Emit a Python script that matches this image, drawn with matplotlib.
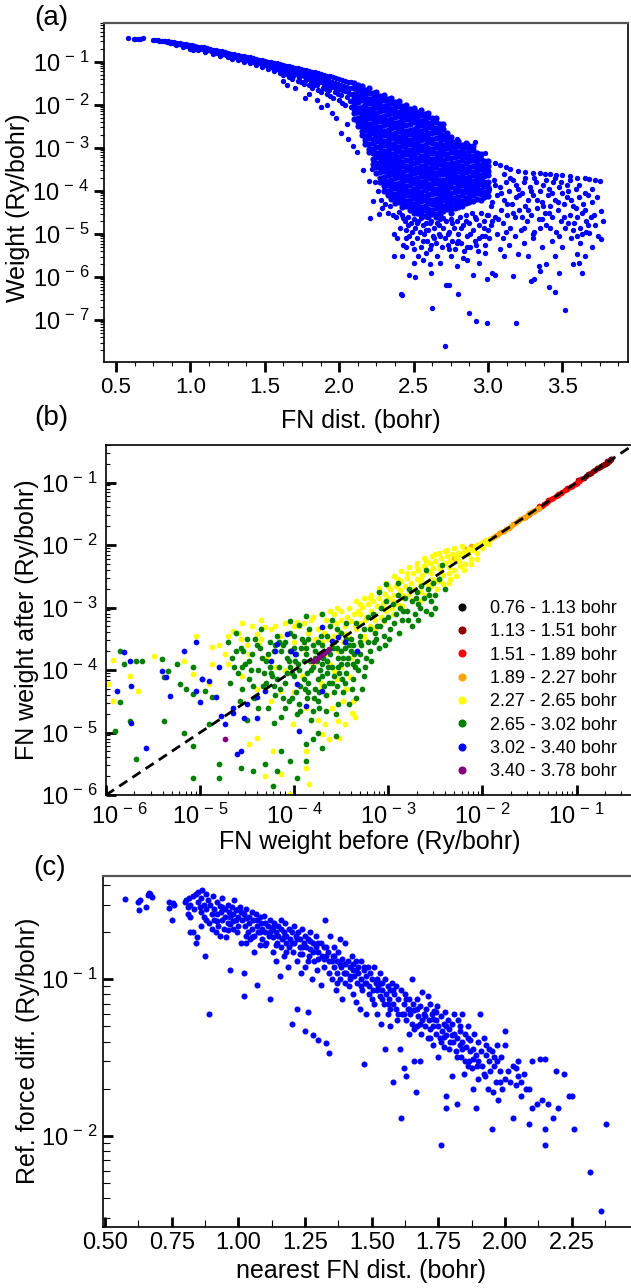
import numpy as np
import matplotlib
matplotlib.use("Agg")
import matplotlib.pyplot as plt
import matplotlib.transforms as mtransforms
from matplotlib.ticker import (LogLocator, MultipleLocator, AutoMinorLocator,
                               NullFormatter, FormatStrFormatter, FuncFormatter)
from matplotlib.lines import Line2D

# ---------------- panel (a): FN distance vs weight (log10 of weight) ----------------
a_band = [
    (0.58,-0.45),(0.62,-0.47),(0.63,-0.48),(0.65,-0.47),(0.66,-0.48),(0.68,-0.46),(0.75,-0.50),(0.76,-0.49),(0.78,-0.50),(0.79,-0.52),
    (0.81,-0.51),(0.82,-0.53),(0.83,-0.52),(0.84,-0.55),(0.85,-0.53),(0.86,-0.56),(0.87,-0.54),(0.88,-0.57),(0.89,-0.55),(0.90,-0.58),
    (0.91,-0.56),(0.92,-0.59),(0.93,-0.57),(0.94,-0.61),(0.95,-0.58),(0.96,-0.62),(0.97,-0.60),(0.98,-0.63),(0.99,-0.61),(1.00,-0.65),
    (1.01,-0.62),(1.02,-0.66),(1.03,-0.63),(1.04,-0.68),(1.05,-0.65),(1.06,-0.69),(1.07,-0.66),(1.08,-0.71),(1.09,-0.67),(1.10,-0.73),
    (1.11,-0.69),(1.12,-0.74),(1.13,-0.70),(1.14,-0.76),(1.15,-0.72),(1.16,-0.78),(1.17,-0.73),(1.18,-0.79),(1.19,-0.75),(1.20,-0.81),
    (1.21,-0.76),(1.22,-0.83),(1.23,-0.78),(1.24,-0.85),(1.25,-0.79),(1.26,-0.86),(1.27,-0.81),(1.28,-0.88),(1.29,-0.82),(1.30,-0.90),
    (1.00,-0.70),(1.05,-0.73),(1.10,-0.77),(1.15,-0.82),(1.20,-0.86),(1.25,-0.90),(1.28,-0.94),(0.95,-0.66),(0.90,-0.62),(1.02,-0.72),
    (1.32,-0.84),(1.32,-0.90),(1.32,-0.96),(1.34,-0.86),(1.34,-0.93),(1.36,-0.87),(1.36,-0.95),(1.36,-1.00),(1.38,-0.89),(1.38,-0.97),
    (1.40,-0.90),(1.40,-0.98),(1.40,-1.04),(1.42,-0.92),(1.42,-1.00),(1.44,-0.93),(1.44,-1.02),(1.44,-1.08),(1.46,-0.95),(1.46,-1.04),
    (1.48,-0.96),(1.48,-1.06),(1.48,-1.13),(1.50,-0.98),(1.50,-1.08),(1.52,-1.00),(1.52,-1.10),(1.52,-1.18),(1.54,-1.01),(1.54,-1.12),
    (1.56,-1.03),(1.56,-1.14),(1.56,-1.22),(1.58,-1.04),(1.58,-1.16),(1.60,-1.06),(1.60,-1.18),(1.60,-1.27),(1.62,-1.07),(1.62,-1.20),
    (1.62,-1.32),(1.64,-1.09),(1.64,-1.22),(1.66,-1.10),(1.66,-1.24),(1.66,-1.36),(1.68,-1.12),(1.68,-1.26),(1.68,-1.40),(1.70,-1.14),
    (1.70,-1.28),(1.72,-1.15),(1.72,-1.30),(1.72,-1.44),(1.74,-1.17),(1.74,-1.32),(1.74,-1.48),(1.76,-1.19),(1.76,-1.34),(1.76,-1.52),
    (1.78,-1.20),(1.78,-1.37),(1.80,-1.22),(1.80,-1.39),(1.80,-1.55),(1.82,-1.24),(1.82,-1.41),(1.82,-1.60),(1.84,-1.25),(1.84,-1.44),
    (1.86,-1.27),(1.86,-1.46),(1.86,-1.65),(1.88,-1.29),(1.88,-1.48),(1.88,-1.70),(1.90,-1.31),(1.90,-1.51),(1.92,-1.33),(1.92,-1.53),
    (1.92,-1.75),(1.94,-1.34),(1.94,-1.56),(1.94,-1.80),(1.96,-1.36),(1.96,-1.58),(1.96,-1.85),(1.98,-1.38),(1.98,-1.61),(2.00,-1.40),
    (2.00,-1.63),(2.00,-1.90),(2.02,-1.42),(2.02,-1.66),(2.02,-1.95),(2.04,-1.44),(2.04,-1.68),(2.04,-2.00),(2.06,-1.46),(2.06,-1.71),
    (2.08,-1.48),(2.08,-1.74),(2.08,-2.05),
    (1.33,-0.88),(1.35,-0.91),(1.37,-0.92),(1.39,-0.94),(1.41,-0.95),(1.43,-0.97),(1.45,-0.99),(1.47,-1.01),(1.49,-1.02),(1.51,-1.05),
    (1.53,-1.06),(1.55,-1.08),(1.57,-1.09),(1.59,-1.11),(1.61,-1.13),(1.63,-1.14),(1.65,-1.16),(1.67,-1.18),(1.69,-1.20),(1.71,-1.22),
    (1.73,-1.23),(1.75,-1.25),(1.77,-1.28),(1.79,-1.30),(1.81,-1.31),(1.83,-1.33),(1.85,-1.36),(1.87,-1.38),(1.89,-1.40),(1.91,-1.42),
    (1.93,-1.44),(1.95,-1.47),(1.97,-1.49),(1.99,-1.51),(2.01,-1.53),(2.03,-1.56),(2.05,-1.58),(2.07,-1.60),(2.09,-1.62),
    (1.61,-1.23),(1.65,-1.29),(1.69,-1.33),(1.73,-1.38),(1.77,-1.44),(1.81,-1.49),(1.85,-1.55),(1.89,-1.60),(1.93,-1.65),(1.97,-1.71),
    (2.01,-1.77),(2.05,-1.83),(2.09,-1.88),(1.83,-1.53),(1.91,-1.63),(1.99,-1.75),(2.07,-1.92),
]
a_band_lower = [
    (1.62,-1.45),(1.65,-1.55),(1.70,-1.60),(1.77,-1.84),(1.80,-1.75),(1.85,-1.90),(1.88,-2.05),(1.92,-2.00),(1.95,-2.20),(1.98,-2.30),
    (2.01,-2.65),(2.05,-2.45),(2.06,-2.80),(2.09,-2.96),(2.12,-3.10),(2.16,-3.51),(2.20,-3.77),
]
a_cloud_dist = [2.100, 2.125, 2.150, 2.175, 2.200, 2.225, 2.250, 2.275, 2.300, 2.325, 2.350, 2.375, 2.400,
                2.425, 2.450, 2.475, 2.500, 2.525, 2.550, 2.575, 2.600, 2.625, 2.650, 2.675, 2.700, 2.725,
                2.750, 2.775, 2.800, 2.825, 2.850, 2.875, 2.900, 2.925, 2.950, 2.975, 3.000]
a_cloud_logw = [
    [-1.50,-1.61,-1.74,-1.84,-1.98,-2.10,-2.19,-2.32],
    [-1.53,-1.59,-1.71,-1.82,-1.94,-2.07,-2.17,-2.30,-2.41,-2.50],
    [-1.56,-1.67,-1.80,-1.90,-2.04,-2.16,-2.25,-2.38,-2.49,-2.61,-2.70],
    [-1.65,-1.77,-1.88,-2.00,-2.13,-2.23,-2.36,-2.47,-2.59,-2.72,-2.82,-2.90],
    [-1.62,-1.73,-1.86,-1.96,-2.10,-2.22,-2.31,-2.44,-2.55,-2.67,-2.77,-2.91,-3.03,-3.10],
    [-1.72,-1.84,-1.95,-2.07,-2.20,-2.30,-2.43,-2.54,-2.66,-2.79,-2.89,-3.02,-3.13,-3.25,-3.37],
    [-1.70,-1.81,-1.94,-2.04,-2.18,-2.30,-2.39,-2.52,-2.63,-2.75,-2.85,-2.99,-3.11,-3.22,-3.35,-3.45,-3.59],
    [-1.80,-1.92,-2.03,-2.15,-2.28,-2.38,-2.51,-2.62,-2.74,-2.87,-2.97,-3.10,-3.21,-3.33,-3.45,-3.56,-3.69,-3.80],
    [-1.78,-1.89,-2.02,-2.12,-2.26,-2.38,-2.47,-2.60,-2.71,-2.83,-2.93,-3.07,-3.19,-3.30,-3.43,-3.53,-3.67,-3.79,-3.88,-4.01],
    [-1.87,-1.99,-2.10,-2.22,-2.35,-2.45,-2.58,-2.69,-2.81,-2.94,-3.04,-3.17,-3.28,-3.40,-3.52,-3.63,-3.76,-3.87,-3.99,-4.10],
    [-1.85,-1.96,-2.09,-2.19,-2.33,-2.45,-2.54,-2.67,-2.78,-2.90,-3.00,-3.14,-3.26,-3.37,-3.50,-3.60,-3.74,-3.86,-3.95,-4.08,-4.19],
    [-1.94,-2.06,-2.17,-2.29,-2.42,-2.52,-2.65,-2.76,-2.88,-3.01,-3.11,-3.24,-3.35,-3.47,-3.59,-3.70,-3.83,-3.94,-4.06,-4.17,-4.29],
    [-1.92,-2.03,-2.16,-2.26,-2.40,-2.52,-2.61,-2.74,-2.85,-2.97,-3.07,-3.21,-3.33,-3.44,-3.57,-3.67,-3.81,-3.93,-4.02,-4.15,-4.26],
    [-2.02,-2.14,-2.25,-2.37,-2.50,-2.60,-2.73,-2.84,-2.96,-3.09,-3.19,-3.32,-3.43,-3.55,-3.67,-3.78,-3.91,-4.02,-4.14,-4.25,-4.37],
    [-2.00,-2.11,-2.24,-2.34,-2.48,-2.60,-2.69,-2.82,-2.93,-3.05,-3.15,-3.29,-3.41,-3.52,-3.65,-3.75,-3.89,-4.01,-4.10,-4.23,-4.34],
    [-2.10,-2.22,-2.33,-2.45,-2.58,-2.68,-2.81,-2.92,-3.04,-3.17,-3.27,-3.40,-3.51,-3.63,-3.75,-3.86,-3.99,-4.10,-4.22,-4.33,-4.45],
    [-2.07,-2.18,-2.31,-2.41,-2.55,-2.67,-2.76,-2.89,-3.00,-3.12,-3.22,-3.36,-3.48,-3.59,-3.72,-3.82,-3.96,-4.08,-4.17,-4.30,-4.41,-4.50],
    [-2.16,-2.28,-2.39,-2.51,-2.64,-2.74,-2.87,-2.98,-3.10,-3.23,-3.33,-3.46,-3.57,-3.69,-3.81,-3.92,-4.05,-4.16,-4.28,-4.39,-4.50],
    [-2.13,-2.24,-2.37,-2.47,-2.61,-2.73,-2.82,-2.95,-3.06,-3.18,-3.28,-3.42,-3.54,-3.65,-3.78,-3.88,-4.02,-4.14,-4.23,-4.36,-4.47,-4.55],
    [-2.22,-2.34,-2.45,-2.57,-2.70,-2.80,-2.93,-3.04,-3.16,-3.29,-3.39,-3.52,-3.63,-3.75,-3.87,-3.98,-4.11,-4.22,-4.34,-4.45,-4.57],
    [-2.18,-2.29,-2.42,-2.52,-2.66,-2.78,-2.87,-3.00,-3.11,-3.23,-3.33,-3.47,-3.59,-3.70,-3.83,-3.93,-4.07,-4.19,-4.28,-4.41,-4.52,-4.60],
    [-2.31,-2.43,-2.54,-2.66,-2.79,-2.89,-3.02,-3.13,-3.25,-3.38,-3.48,-3.61,-3.72,-3.84,-3.96,-4.07,-4.20,-4.31,-4.43,-4.54],
    [-2.30,-2.41,-2.54,-2.64,-2.78,-2.90,-2.99,-3.12,-3.23,-3.35,-3.45,-3.59,-3.71,-3.82,-3.95,-4.05,-4.19,-4.31,-4.40,-4.53,-4.60],
    [-2.44,-2.56,-2.67,-2.79,-2.92,-3.02,-3.15,-3.26,-3.38,-3.51,-3.61,-3.74,-3.85,-3.97,-4.09,-4.20,-4.33,-4.44,-4.55],
    [-2.45,-2.56,-2.69,-2.79,-2.93,-3.05,-3.14,-3.27,-3.38,-3.50,-3.60,-3.74,-3.86,-3.97,-4.10,-4.20,-4.34,-4.46],
    [-2.66,-2.78,-2.89,-3.01,-3.14,-3.24,-3.37,-3.48,-3.60,-3.73,-3.83,-3.96,-4.07,-4.19,-4.31,-4.42],
    [-2.75,-2.86,-2.99,-3.09,-3.23,-3.35,-3.44,-3.57,-3.68,-3.80,-3.90,-4.04,-4.16,-4.27,-4.40,-4.50],
    [-2.86,-2.98,-3.09,-3.21,-3.34,-3.44,-3.57,-3.68,-3.80,-3.93,-4.03,-4.16,-4.27,-4.39],
    [-2.85,-2.96,-3.09,-3.19,-3.33,-3.45,-3.54,-3.67,-3.78,-3.90,-4.00,-4.14,-4.26,-4.37],
    [-2.93,-3.05,-3.16,-3.28,-3.41,-3.51,-3.64,-3.75,-3.87,-4.00,-4.10,-4.23,-4.34],
    [-2.88,-2.99,-3.12,-3.22,-3.36,-3.48,-3.57,-3.70,-3.81,-3.93,-4.03,-4.17,-4.29],
    [-2.96,-3.08,-3.19,-3.31,-3.44,-3.54,-3.67,-3.78,-3.90,-4.03,-4.13,-4.26],
    [-2.95,-3.06,-3.19,-3.29,-3.43,-3.55,-3.64,-3.77,-3.88,-4.00,-4.10,-4.24],
    [-3.11,-3.23,-3.34,-3.46,-3.59,-3.69,-3.82,-3.93,-4.05,-4.18],
    [-3.15,-3.26,-3.39,-3.49,-3.63,-3.75,-3.84,-3.97,-4.08,-4.20],
    [-3.31,-3.43,-3.54,-3.66,-3.79,-3.89,-4.02,-4.13],
    [-3.30,-3.41,-3.54,-3.64,-3.78,-3.90,-3.99,-4.12],
]
a_right = [
    (3.05,-3.36),(3.08,-3.40),(3.12,-3.45),(3.15,-3.48),(3.20,-3.54),(3.25,-3.56),(3.30,-3.58),(3.35,-3.58),(3.38,-3.60),(3.42,-3.61),
    (3.46,-3.63),(3.50,-3.64),(3.55,-3.66),(3.60,-3.69),(3.65,-3.71),(3.68,-3.73),(3.72,-3.75),(3.75,-3.77),
    (2.79,-2.80),(2.86,-2.91),(2.91,-2.86),(2.98,-3.11),(2.99,-3.30),
    (3.02,-4.35),(3.04,-3.75),(3.05,-4.60),(3.06,-4.10),(3.08,-3.90),(3.09,-4.45),(3.10,-4.75),(3.11,-4.20),(3.12,-3.80),(3.13,-4.55),
    (3.14,-4.00),(3.15,-4.85),(3.16,-4.30),(3.17,-3.75),(3.18,-4.60),(3.19,-4.15),(3.20,-3.95),(3.21,-4.45),(3.22,-4.90),(3.23,-4.05),
    (3.24,-3.80),(3.25,-4.35),(3.26,-4.70),(3.27,-4.20),(3.28,-3.90),(3.29,-4.55),(3.30,-4.10),(3.31,-4.95),(3.32,-3.78),(3.33,-4.40),
    (3.34,-4.65),(3.35,-4.00),(3.36,-4.25),(3.37,-3.85),(3.38,-4.50),(3.39,-4.80),(3.40,-4.10),(3.41,-3.95),(3.42,-4.35),(3.43,-4.60),
    (3.44,-3.80),(3.45,-4.20),(3.46,-4.95),(3.47,-4.45),(3.48,-3.90),(3.49,-4.70),(3.50,-4.05),(3.51,-4.30),(3.52,-4.85),(3.53,-3.85),
    (3.54,-4.00),(3.55,-4.55),(3.56,-4.20),(3.57,-4.35),(3.58,-4.75),(3.59,-3.95),(3.60,-4.60),(3.61,-4.15),(3.62,-4.85),(3.63,-5.00),
    (3.64,-4.30),(3.65,-4.43),(3.66,-4.70),(3.67,-4.10),(3.68,-4.97),(3.69,-4.60),(3.70,-4.25),(3.72,-4.80),(3.74,-5.05),(3.76,-4.46),
    (3.76,-5.12),
]
a_right_more = [
    (3.01,-3.95),(3.03,-4.25),(3.05,-3.85),(3.07,-4.65),(3.09,-4.05),(3.11,-3.60),(3.13,-4.30),(3.15,-3.70),(3.17,-4.50),(3.19,-3.85),
    (3.21,-4.10),(3.23,-4.60),(3.25,-3.70),(3.27,-4.45),(3.29,-4.00),(3.31,-3.70),(3.33,-4.20),(3.35,-4.85),(3.37,-4.35),(3.39,-3.75),
    (3.41,-4.50),(3.43,-4.05),(3.45,-3.70),(3.47,-4.25),(3.49,-3.80),(3.51,-4.60),(3.53,-4.15),(3.55,-3.75),(3.57,-4.90),(3.59,-4.40),
    (3.61,-3.85),(3.63,-4.50),(3.65,-4.05),(3.67,-4.80),(3.02,-4.80),(3.06,-5.00),(3.12,-4.95),(3.18,-5.05),(3.24,-4.85),(3.30,-5.00),
    (3.36,-4.65),(3.42,-4.85),(3.48,-5.05),(3.54,-4.75),(3.60,-5.05),(3.66,-4.95),(3.71,-4.55),(3.73,-4.15),(3.77,-4.70),(3.70,-3.95),
]
a_under = [
    (2.42,-4.55),(2.44,-4.70),(2.45,-4.90),(2.46,-4.60),(2.47,-5.05),(2.48,-4.75),(2.49,-5.20),(2.50,-4.65),(2.51,-4.85),(2.52,-5.10),
    (2.53,-4.70),(2.54,-4.95),(2.55,-5.30),(2.56,-4.80),(2.57,-5.00),(2.58,-4.75),(2.59,-5.15),(2.60,-4.90),(2.61,-5.35),(2.62,-4.70),
    (2.63,-5.05),(2.64,-4.85),(2.65,-5.20),(2.66,-4.75),(2.67,-5.00),(2.68,-4.65),(2.69,-5.30),(2.70,-4.85),(2.71,-5.10),(2.72,-4.70),
    (2.73,-5.25),(2.74,-4.95),(2.75,-4.65),(2.76,-5.15),(2.77,-4.85),(2.78,-5.35),(2.79,-4.70),(2.80,-5.00),(2.81,-4.60),(2.82,-5.20),
    (2.83,-4.80),(2.84,-5.40),(2.85,-4.55),(2.86,-5.05),(2.87,-4.75),(2.88,-5.30),(2.89,-4.50),(2.90,-4.90),(2.91,-5.15),(2.92,-4.65),
    (2.93,-5.40),(2.94,-4.80),(2.95,-4.50),(2.96,-5.05),(2.97,-4.70),(2.98,-5.25),(2.99,-4.55),(3.00,-4.90),(3.01,-5.10),(3.03,-4.70),
    (2.22,-3.50),(2.24,-3.80),(2.26,-4.00),(2.28,-4.20),(2.29,-4.40),(2.31,-4.30),(2.33,-4.50),(2.34,-4.35),(2.36,-4.55),(2.21,-4.62),
    (2.23,-4.23),(2.27,-4.54),(2.38,-4.60),(2.40,-4.48),(2.37,-5.00),(2.39,-5.10),(2.41,-4.85),(2.43,-5.25),
    (2.43,-4.62),(2.46,-4.80),(2.49,-4.95),(2.52,-4.75),(2.55,-4.62),(2.58,-4.90),(2.61,-4.75),(2.64,-5.10),(2.67,-4.80),(2.70,-4.62),
    (2.73,-5.00),(2.76,-4.75),(2.79,-5.20),(2.82,-4.85),(2.85,-4.70),(2.88,-5.00),(2.91,-4.60),(2.94,-5.10),(2.97,-4.85),(3.00,-4.55),
    (2.45,-5.10),(2.50,-5.35),(2.56,-5.15),(2.62,-5.25),(2.68,-5.05),(2.74,-5.35),(2.80,-5.15),(2.86,-5.30),(2.92,-5.25),(2.98,-5.05),
]
a_sparse = [
    (2.37,-5.50),(2.42,-5.50),(2.47,-5.96),(2.51,-5.99),(2.50,-5.66),(2.53,-5.50),(2.61,-5.70),(2.68,-5.66),(2.79,-5.74),(2.86,-5.60),
    (2.94,-5.66),(3.11,-5.50),(3.20,-5.47),(3.27,-5.50),(3.34,-5.74),(3.39,-5.70),(3.45,-5.50),(3.60,-5.47),(3.61,-5.66),(3.63,-5.90),
    (3.65,-5.52),(3.57,-5.70),(2.414,-6.40),(2.42,-6.42),(2.624,-6.71),(2.71,-7.60),(2.72,-6.17),(2.74,-6.19),(2.80,-6.38),(2.87,-6.82),
    (2.92,-7.02),(2.99,-7.06),(3.19,-7.06),(3.52,-6.75),(3.45,-6.34),(3.41,-6.22),(3.31,-6.05),(3.29,-6.10),(2.99,-6.05),(3.03,-5.90),
    (3.17,-5.97),(3.05,-5.95),(2.90,-5.95),(2.62,-5.90),(2.56,-5.60),(2.45,-5.30),(2.58,-5.45),(2.66,-5.50),(2.75,-5.50),(2.83,-5.55),
    (3.08,-5.35),(3.14,-5.25),(3.24,-5.20),(3.36,-5.30),(3.43,-5.15),(3.50,-5.30),(3.56,-5.10),(3.70,-5.30),(3.62,-5.20),(3.30,-5.10),
    (3.10,-5.10),(2.98,-5.45),(3.48,-5.90),(3.35,-5.85),
]

# ---------------- panel (b): FN weight before / after (log10), by FN distance bin ----------------
b_labels = ["0.76 - 1.13 bohr", "1.13 - 1.51 bohr", "1.51 - 1.89 bohr", "1.89 - 2.27 bohr",
            "2.27 - 2.65 bohr", "2.65 - 3.02 bohr", "3.02 - 3.40 bohr", "3.40 - 3.78 bohr"]
b_colors = ["black", "#8B0000", "#FF0000", "#FFA500", "#FFFF00", "#008000", "#0000FF", "#800080"]
b_black = [(-0.74,-0.74),(-0.72,-0.72),(-0.70,-0.70),(-0.68,-0.68),(-0.66,-0.66),(-0.64,-0.64),(-0.63,-0.63)]
b_darkred = [(-1.05,-1.05),(-1.02,-1.02),(-1.00,-1.00),(-0.97,-0.97),(-0.95,-0.95),(-0.92,-0.92),(-0.90,-0.90),(-0.87,-0.87),
             (-0.85,-0.85),(-0.82,-0.82),(-0.80,-0.80),(-0.77,-0.77),(-0.75,-0.75),(-0.72,-0.72),(-0.70,-0.70),(-0.67,-0.67),
             (-0.65,-0.65),(-0.63,-0.63),(-0.98,-0.96),(-0.88,-0.86),(-0.78,-0.76),(-0.68,-0.66)]
b_red = [(-1.55,-1.55),(-1.52,-1.52),(-1.50,-1.50),(-1.47,-1.47),(-1.45,-1.45),(-1.42,-1.42),(-1.40,-1.40),(-1.37,-1.37),
         (-1.35,-1.35),(-1.32,-1.32),(-1.30,-1.30),(-1.27,-1.27),(-1.25,-1.25),(-1.22,-1.22),(-1.20,-1.20),(-1.17,-1.17),
         (-1.15,-1.15),(-1.12,-1.12),(-1.10,-1.10),(-1.07,-1.07),(-1.05,-1.05),(-1.02,-1.02),(-1.00,-1.00),(-0.97,-0.97),
         (-0.95,-0.95),(-1.40,-1.38),(-1.30,-1.28),(-1.20,-1.18),(-1.10,-1.08)]
b_orange = [(-2.15,-2.10),(-2.10,-2.05),(-2.08,-2.03),(-2.05,-2.00),(-2.02,-1.98),(-2.00,-1.97),(-1.97,-1.94),(-1.95,-1.93),
            (-1.92,-1.90),(-1.90,-1.88),(-1.87,-1.86),(-1.85,-1.84),(-1.82,-1.81),(-1.80,-1.79),(-1.77,-1.77),(-1.75,-1.74),
            (-1.72,-1.72),(-1.70,-1.69),(-1.67,-1.67),(-1.65,-1.64),(-1.62,-1.62),(-1.60,-1.59),(-1.57,-1.57),(-1.55,-1.55),
            (-1.52,-1.52),(-1.50,-1.49),(-1.47,-1.47),(-1.45,-1.45),(-1.42,-1.42),(-1.40,-1.40),(-2.25,-2.15),(-2.20,-2.12),
            (-2.30,-2.20),(-2.12,-2.02),(-2.18,-2.06)]
b_yellow_band = [
    (-3.70,-3.55),(-3.68,-3.40),(-3.66,-3.75),(-3.64,-3.50),(-3.62,-3.30),(-3.60,-3.62),(-3.58,-3.45),(-3.56,-3.25),(-3.54,-3.70),(-3.52,-3.38),
    (-3.50,-3.20),(-3.48,-3.55),(-3.46,-3.30),(-3.44,-3.15),(-3.42,-3.48),(-3.40,-3.22),(-3.38,-3.60),(-3.36,-3.10),(-3.34,-3.35),(-3.32,-3.05),
    (-3.30,-3.25),(-3.28,-2.99),(-3.26,-3.45),(-3.24,-3.15),(-3.22,-2.95),(-3.20,-3.30),(-3.18,-3.05),(-3.16,-2.90),(-3.14,-3.20),(-3.12,-2.98),
    (-3.10,-2.85),(-3.08,-3.15),(-3.06,-2.92),(-3.04,-2.78),(-3.02,-3.05),(-3.00,-2.85),(-2.98,-2.70),(-2.96,-3.00),(-2.94,-2.80),(-2.92,-2.65),
    (-2.90,-2.95),(-2.88,-2.72),(-2.86,-2.58),(-2.84,-2.85),(-2.82,-2.66),(-2.80,-2.52),(-2.78,-2.78),(-2.76,-2.60),(-2.74,-2.45),(-2.72,-2.70),
    (-2.70,-2.55),(-2.68,-2.40),(-2.66,-2.62),(-2.64,-2.48),(-2.62,-2.33),(-2.60,-2.80),(-2.58,-2.42),(-2.56,-2.28),(-2.54,-2.55),(-2.52,-2.37),
    (-2.50,-2.25),(-2.48,-2.70),(-2.46,-2.32),(-2.44,-2.20),(-2.42,-2.48),(-2.40,-2.28),(-2.38,-2.17),(-2.36,-2.60),(-2.34,-2.25),(-2.32,-2.14),
    (-2.30,-2.40),(-2.28,-2.20),(-2.26,-2.12),(-2.24,-2.33),(-2.22,-2.16),(-2.20,-2.10),(-2.18,-2.30),(-2.16,-2.12),(-2.14,-2.06),(-2.12,-2.22),
    (-2.10,-2.08),(-2.08,-2.02),(-2.06,-2.12),(-2.04,-2.00),(-2.02,-1.97),(-2.00,-2.05),(-1.98,-1.96),(-1.96,-1.92),(-1.94,-1.98),(-1.92,-1.90),
    (-3.45,-3.42),(-3.35,-3.30),(-3.25,-3.20),(-3.15,-3.10),(-3.05,-3.00),(-2.95,-2.90),(-2.85,-2.80),(-2.75,-2.70),(-2.65,-2.55),(-2.55,-2.45),
    (-2.45,-2.38),(-2.35,-2.35),(-2.25,-2.25),(-2.15,-2.15),(-3.00,-2.65),(-2.90,-2.55),(-2.80,-2.45),(-2.70,-2.35),(-2.60,-2.25),(-2.50,-2.15),
    (-2.40,-2.10),(-3.10,-2.75),(-3.20,-2.85),(-3.30,-2.95),(-2.55,-2.65),(-2.45,-2.58),(-2.35,-2.45),(-2.65,-2.75),(-2.75,-2.88),(-2.85,-2.98),
    (-2.95,-3.10),(-3.05,-3.22),(-3.15,-3.35),(-3.25,-3.50),
    (-3.66,-3.20),(-3.58,-3.10),(-3.50,-3.05),(-3.42,-3.00),(-3.34,-2.90),(-3.26,-2.85),(-3.18,-2.80),(-3.10,-2.68),(-3.02,-2.60),(-2.94,-2.50),
    (-2.86,-2.42),(-2.78,-2.35),(-2.70,-2.28),(-2.62,-2.20),(-2.54,-2.18),(-2.46,-2.12),(-2.38,-2.08),(-2.30,-2.05),(-2.22,-2.02),(-2.28,-2.50),
    (-2.20,-2.40),(-2.12,-2.30),(-2.06,-2.22),(-2.34,-2.55),(-2.42,-2.62),(-2.50,-2.58),(-2.58,-2.62),(-2.66,-2.90),(-3.55,-3.00),(-3.62,-3.05),
    (-3.90,-3.25),(-3.80,-3.15),(-3.72,-3.10),(-4.00,-3.30),(-4.20,-3.30),(-4.35,-3.20),(-4.55,-3.25),(-4.70,-3.45),(-4.80,-3.60),(-3.30,-3.10),
]
b_yellow_low = [
    (-4.60,-3.40),(-4.50,-3.60),(-4.45,-3.30),(-4.35,-3.50),(-4.30,-3.80),(-4.25,-3.35),(-4.20,-3.95),(-4.15,-3.45),(-4.10,-3.25),(-4.05,-3.70),
    (-4.00,-3.55),(-3.95,-3.30),(-3.92,-4.10),(-3.90,-3.65),(-3.85,-3.40),(-3.82,-3.20),(-3.80,-3.90),(-3.78,-3.50),(-3.75,-3.35),(-3.72,-4.20),
    (-3.70,-3.75),(-3.65,-4.40),(-3.62,-3.90),(-3.60,-4.60),(-3.55,-4.15),(-3.50,-3.95),(-3.45,-4.30),(-3.40,-3.80),(-3.38,-4.50),(-3.35,-4.75),
    (-4.70,-3.90),(-4.55,-4.10),(-4.40,-4.30),(-4.25,-4.50),(-4.10,-4.00),(-4.00,-4.35),(-3.88,-4.60),(-3.75,-4.80),(-3.63,-5.10),(-3.48,-4.50),
    (-5.93,-3.84),(-5.98,-4.22),(-5.93,-4.49),(-5.49,-3.77),(-5.75,-4.09),(-5.66,-4.33),(-5.04,-3.46),(-5.17,-3.85),(-5.08,-4.06),(-4.91,-4.22),
    (-4.87,-3.63),(-4.87,-3.90),(-4.74,-3.74),(-4.65,-3.37),(-4.57,-3.50),(-4.40,-3.42),(-4.31,-3.31),(-4.38,-3.58),(-4.48,-3.74),(-4.14,-3.58),
    (-4.14,-5.66),(-4.05,-5.98),(-4.31,-5.69),(-4.23,-5.29),(-4.48,-5.18),(-4.40,-5.08),(-4.01,-4.86),(-3.88,-5.56),(-3.84,-5.82),(-3.67,-4.86),
    (-3.54,-4.81),(-3.39,-4.68),(-3.71,-5.02),(-3.88,-5.29),(-3.52,-5.08),(-3.46,-4.86),(-3.97,-3.23),(-3.97,-3.90),(-4.14,-4.33),(-3.71,-4.27),
    (-3.58,-4.01),(-3.41,-4.11),
]
b_green_cloud = [
    (-4.70,-3.55),(-4.66,-3.80),(-4.62,-3.40),(-4.60,-4.05),(-4.57,-3.65),(-4.55,-4.30),(-4.52,-3.90),(-4.50,-3.50),(-4.48,-4.15),(-4.45,-3.75),
    (-4.43,-4.45),(-4.40,-3.60),(-4.38,-4.00),(-4.35,-3.35),(-4.33,-4.25),(-4.30,-3.85),(-4.28,-4.60),(-4.26,-3.55),(-4.24,-4.10),(-4.22,-3.70),
    (-4.20,-4.40),(-4.18,-3.45),(-4.16,-3.95),(-4.14,-4.75),(-4.12,-3.60),(-4.10,-4.20),(-4.08,-3.80),(-4.06,-4.50),(-4.04,-3.40),(-4.02,-4.05),
    (-4.00,-3.65),(-3.98,-4.35),(-3.96,-3.90),(-3.94,-4.65),(-3.92,-3.50),(-3.90,-4.15),(-3.88,-3.75),(-3.86,-4.45),(-3.84,-3.35),(-3.82,-4.00),
    (-3.80,-3.60),(-3.78,-4.30),(-3.76,-3.85),(-3.74,-4.60),(-3.72,-3.45),(-3.70,-4.10),(-3.68,-3.70),(-3.66,-4.40),(-3.64,-3.95),(-3.62,-3.30),
    (-3.60,-4.20),(-3.58,-3.55),(-3.56,-4.70),(-3.54,-3.80),(-3.52,-4.05),(-3.50,-3.40),(-3.48,-4.35),(-3.46,-3.65),(-3.44,-3.90),(-3.42,-4.55),
    (-3.40,-3.50),(-3.38,-4.15),(-3.36,-3.75),(-3.34,-3.25),(-3.32,-4.00),(-3.30,-3.55),(-3.28,-4.30),(-3.26,-3.35),(-3.24,-3.80),(-3.22,-3.15),
    (-4.68,-4.20),(-4.64,-3.95),(-4.58,-4.50),(-4.54,-3.70),(-4.50,-4.80),(-4.46,-4.00),(-4.42,-3.50),(-4.38,-4.60),(-4.34,-3.80),(-4.30,-4.20),
    (-4.26,-3.95),(-4.22,-4.85),(-4.18,-4.15),(-4.14,-3.70),(-4.10,-4.60),(-4.06,-3.85),(-4.02,-4.45),(-3.98,-3.75),(-3.94,-4.25),(-3.90,-3.55),
    (-3.86,-4.05),(-3.82,-4.80),(-3.78,-3.70),(-3.74,-4.35),(-3.70,-3.90),(-3.66,-4.65),(-3.62,-3.75),(-3.58,-4.35),(-3.54,-4.55),(-3.50,-3.70),
    (-3.46,-4.20),(-3.42,-3.60),(-3.38,-3.90),(-3.34,-4.45),(-3.30,-3.75),(-3.26,-4.10),(-3.22,-3.55),(-3.18,-3.85),(-3.14,-3.40),(-3.10,-3.65),
    (-4.05,-3.95),(-4.00,-4.10),(-3.95,-4.00),(-3.90,-3.85),(-3.85,-4.20),(-3.80,-3.95),(-3.75,-4.15),(-3.70,-3.60),(-3.65,-3.85),(-3.60,-3.95),
    (-3.55,-3.65),(-3.50,-3.90),(-3.45,-3.50),(-3.40,-3.70),(-3.35,-3.95),(-3.30,-3.45),(-3.88,-3.65),(-3.78,-3.80),(-3.68,-4.25),(-3.58,-4.10),
    (-3.48,-3.80),(-3.38,-3.60),(-3.95,-4.55),(-3.85,-4.35),(-3.75,-4.50),(-3.65,-4.05),(-3.55,-4.25),(-3.45,-4.05),(-4.15,-4.30),(-4.25,-4.05),
    (-3.20,-3.35),(-3.16,-3.10),(-3.12,-3.30),(-3.08,-3.00),(-3.05,-3.20),(-3.02,-2.90),(-3.00,-3.15),(-2.98,-3.35),(-2.95,-2.95),(-2.92,-3.10),
    (-2.90,-2.80),(-2.88,-3.00),(-2.85,-3.20),(-2.82,-2.85),(-2.80,-3.05),(-2.78,-2.70),(-2.75,-2.90),(-2.72,-3.10),(-2.70,-2.75),(-2.68,-2.95),
    (-2.65,-2.65),(-2.62,-2.85),(-2.60,-3.05),(-2.58,-2.70),(-2.55,-2.90),(-2.52,-2.60),(-2.50,-2.80),(-2.46,-2.55),(-2.43,-2.32),(-2.40,-2.70),
    (-3.03,-2.62),(-2.90,-2.60),(-3.10,-2.75),(-2.60,-2.40),(-2.68,-3.20),(-2.75,-3.30),(-2.55,-3.10),(-2.50,-3.00),(-3.15,-3.55),(-3.05,-3.45),
    (-3.88,-3.13),(-3.71,-3.10),(-4.05,-3.21),(-3.95,-3.28),(-3.60,-3.20),
    (-4.62,-3.70),(-4.56,-3.95),(-4.48,-3.85),(-4.44,-4.25),(-4.36,-3.65),(-4.32,-4.05),(-4.28,-3.75),(-4.22,-4.25),(-4.16,-3.55),(-4.12,-4.45),
    (-4.08,-4.05),(-4.04,-3.70),(-3.99,-3.85),(-3.93,-3.65),(-3.89,-4.30),(-3.83,-3.85),(-3.79,-4.45),(-3.73,-4.00),(-3.69,-3.80),(-3.63,-4.20),
    (-3.59,-3.65),(-3.53,-3.95),(-3.49,-4.15),(-3.43,-3.80),(-3.39,-4.30),(-3.33,-3.85),(-3.29,-3.60),(-3.25,-3.95),(-3.19,-3.70),(-3.13,-3.50),
    (-3.09,-3.30),(-3.04,-3.60),(-2.99,-3.50),(-2.94,-3.25),(-2.89,-3.40),(-2.84,-3.05),(-2.79,-3.20),(-2.71,-2.85),(-2.66,-3.00),(-2.57,-2.80),
    (-3.85,-3.50),(-3.75,-3.55),(-3.65,-3.45),(-3.55,-3.35),(-3.45,-3.25),(-4.00,-3.45),(-4.10,-3.55),(-4.20,-3.60),(-3.97,-4.70),(-3.80,-4.65),
]
b_green_low = [
    (-5.85,-3.69),(-5.81,-3.90),(-5.68,-3.85),(-5.62,-3.85),(-5.40,-3.82),(-5.38,-4.11),(-5.34,-4.01),(-5.25,-3.90),(-5.21,-4.22),(-5.15,-4.30),
    (-5.08,-4.38),(-5.08,-3.95),(-4.98,-4.14),(-4.95,-4.33),(-4.87,-4.43),(-5.85,-4.51),(-5.90,-4.97),(-5.68,-5.42),(-5.75,-4.81),(-5.38,-4.81),
    (-5.17,-5.00),(-5.08,-5.21),(-4.91,-4.86),(-4.80,-5.50),(-4.80,-5.72),(-5.08,-5.72),(-4.57,-5.56),(-4.44,-5.61),(-4.31,-5.50),(-4.18,-5.61),
    (-4.05,-5.45),(-4.23,-5.85),(-3.97,-5.72),(-3.88,-5.45),(-4.14,-5.29),(-3.88,-5.18),(-3.80,-5.10),(-3.71,-5.24),(-3.75,-5.00),(-3.56,-5.05),
]
b_blue = [
    (-5.88,-4.33),(-5.81,-3.71),(-5.75,-3.85),(-5.73,-4.25),(-5.73,-4.84),(-5.58,-5.24),(-5.40,-4.02),(-5.36,-4.11),(-5.32,-4.41),(-5.04,-4.33),
    (-5.04,-3.55),(-5.17,-3.69),(-4.98,-4.14),(-4.91,-4.17),(-4.80,-3.95),(-4.83,-4.43),(-4.78,-4.73),(-4.74,-4.86),(-4.65,-4.68),(-4.61,-5.34),
    (-4.53,-4.76),(-4.50,-4.54),(-4.40,-4.43),(-4.31,-4.33),(-4.40,-4.76),(-4.25,-3.85),(-4.20,-3.69),(-4.18,-3.58),(-4.08,-3.42),(-4.03,-3.69),
    (-3.99,-3.74),(-3.97,-4.22),(-3.95,-4.97),(-3.88,-4.57),(-3.71,-3.31),(-3.71,-4.33),(-3.60,-3.53),(-3.54,-3.47),(-3.46,-3.55),(-3.33,-3.69),
    (-4.65,-4.60),(-5.00,-4.51),(-4.57,-5.29),
]
b_purple = [(-3.80,-3.85),(-3.77,-3.82),(-3.74,-3.79),(-3.71,-3.75),(-3.68,-3.72),(-3.65,-3.69),(-3.63,-3.66),(-4.74,-5.10)]
b_lim = (1e-6, 0.4)

# ---------------- panel (c): nearest FN distance vs reference force difference ----------------
c_left = [
    (0.576,0.325),(0.625,0.31),(0.627,0.275),(0.63,0.32),(0.655,0.29),(0.66,0.345),(0.665,0.355),(0.67,0.35),(0.675,0.335),(0.74,0.31),
    (0.74,0.285),(0.75,0.24),(0.755,0.305),(0.76,0.3),
    (0.80,0.31),(0.805,0.32),(0.81,0.29),(0.81,0.26),(0.815,0.33),(0.82,0.30),(0.82,0.2),(0.83,0.2),(0.83,0.34),(0.835,0.28),
    (0.84,0.35),(0.84,0.17),(0.845,0.185),(0.85,0.36),(0.85,0.31),(0.855,0.29),(0.86,0.33),(0.86,0.27),(0.865,0.37),(0.87,0.3),
    (0.87,0.25),(0.875,0.14),(0.88,0.35),(0.88,0.28),(0.885,0.32),(0.89,0.06),(0.89,0.23),(0.895,0.3),(0.9,0.26),(0.9,0.21),
    (0.905,0.34),(0.91,0.28),(0.91,0.24),(0.915,0.2),(0.92,0.31),(0.92,0.26),(0.925,0.22),(0.93,0.295),(0.93,0.19),(0.935,0.27),
    (0.94,0.24),(0.94,0.33),(0.945,0.21),(0.95,0.28),(0.95,0.25),(0.955,0.185),(0.96,0.3),(0.96,0.23),(0.965,0.27),(0.97,0.115),
    (0.97,0.25),(0.975,0.29),(0.98,0.21),(0.98,0.26),(0.985,0.32),(0.99,0.24),(0.99,0.275),(0.995,0.2),(1.0,0.25),(1.0,0.22),
    (1.005,0.29),(1.01,0.27),(1.01,0.17),(1.015,0.24),(1.02,0.11),(1.02,0.078),(1.02,0.26),(1.025,0.22),(1.03,0.17),(1.03,0.28),
    (1.035,0.2),(1.04,0.25),(1.04,0.23),(1.045,0.18),(1.05,0.27),(1.05,0.21),(1.055,0.24),(1.06,0.19),(1.06,0.15),(1.065,0.26),
    (1.07,0.092),(1.07,0.22),(1.075,0.2),(1.08,0.25),(1.08,0.165),(1.085,0.23),(1.09,0.21),(1.09,0.18),(1.095,0.255),(1.1,0.2),
    (1.1,0.23),(1.105,0.17),(1.11,0.22),(1.115,0.19),(1.12,0.075),(1.12,0.24),(1.125,0.21),(1.13,0.15),(1.13,0.185),(1.135,0.23),
    (1.14,0.2),(1.14,0.13),(1.145,0.17),(1.15,0.22),(1.15,0.19),(1.155,0.105),(1.16,0.21),(1.16,0.16),(1.165,0.18),(1.17,0.2),
    (1.17,0.14),(1.175,0.23),(1.18,0.17),(1.18,0.19),(1.185,0.12),(1.19,0.21),(1.19,0.16),(1.195,0.18),
    (0.82,0.25),(0.86,0.22),(0.88,0.24),(0.92,0.235),(0.94,0.29),(0.96,0.205),(0.98,0.235),(1.0,0.28),(1.03,0.19),(1.05,0.185),
    (1.07,0.24),(1.08,0.2),(1.1,0.165),(1.12,0.2),(1.14,0.165),(1.16,0.24),(1.18,0.15),(1.03,0.245),(1.13,0.215),(1.17,0.185),
    (0.97,0.225),
]
c_mid = [
    (1.2,0.052),(1.2,0.2),(1.205,0.15),(1.21,0.22),(1.21,0.17),(1.215,0.19),(1.22,0.065),(1.22,0.13),(1.225,0.2),(1.23,0.16),
    (1.23,0.18),(1.235,0.11),(1.24,0.21),(1.24,0.145),(1.245,0.17),(1.25,0.047),(1.25,0.19),(1.25,0.12),(1.255,0.16),(1.26,0.062),
    (1.26,0.18),(1.265,0.14),(1.27,0.2),(1.27,0.155),(1.275,0.1),(1.28,0.044),(1.28,0.17),(1.285,0.13),(1.29,0.16),(1.29,0.19),
    (1.295,0.115),(1.3,0.041),(1.3,0.15),(1.3,0.135),(1.31,0.17),(1.31,0.092),(1.315,0.14),(1.32,0.16),(1.32,0.12),(1.325,0.24),
    (1.33,0.039),(1.33,0.14),(1.335,0.15),(1.34,0.034),(1.34,0.11),(1.345,0.19),(1.35,0.13),(1.35,0.1),(1.355,0.14),(1.36,0.12),
    (1.36,0.16),(1.365,0.085),(1.37,0.13),(1.37,0.11),(1.375,0.15),(1.38,0.18),(1.38,0.1),(1.385,0.12),(1.39,0.135),(1.39,0.075),
    (1.395,0.11),(1.4,0.17),(1.4,0.125),(1.4,0.095),(1.405,0.11),(1.41,0.13),(1.415,0.09),(1.42,0.12),(1.42,0.1),(1.425,0.14),
    (1.43,0.08),(1.43,0.115),(1.435,0.105),(1.44,0.13),(1.44,0.072),(1.445,0.095),(1.45,0.12),(1.45,0.11),(1.455,0.065),(1.46,0.1),
    (1.46,0.13),(1.465,0.085),(1.47,0.029),(1.47,0.115),(1.475,0.095),(1.48,0.105),(1.48,0.06),(1.485,0.12),(1.49,0.09),(1.49,0.08),
    (1.495,0.11),(1.5,0.1),(1.505,0.085),(1.51,0.12),(1.51,0.07),(1.515,0.095),(1.52,0.1),(1.52,0.06),(1.525,0.09),(1.53,0.11),
    (1.53,0.078),(1.535,0.052),(1.54,0.095),(1.54,0.085),(1.545,0.07),(1.55,0.036),(1.55,0.1),(1.555,0.08),(1.56,0.06),(1.56,0.09),
    (1.565,0.075),(1.57,0.085),(1.57,0.05),(1.575,0.095),(1.58,0.022),(1.58,0.07),(1.585,0.08),(1.59,0.065),(1.59,0.09),(1.595,0.055),
    (1.2,0.17),(1.22,0.18),(1.24,0.16),(1.26,0.13),(1.28,0.15),(1.3,0.17),(1.32,0.135),(1.34,0.13),(1.36,0.14),(1.38,0.125),
    (1.4,0.11),(1.42,0.105),(1.44,0.115),(1.46,0.09),(1.48,0.095),(1.5,0.075),(1.52,0.085),(1.54,0.075),(1.56,0.07),(1.58,0.085),
    (1.23,0.145),(1.27,0.175),(1.33,0.16),(1.37,0.095),(1.43,0.125),(1.47,0.12),(1.53,0.095),(1.57,0.065),
]
c_right = [
    (1.6,0.075),(1.605,0.036),(1.61,0.013),(1.61,0.085),(1.615,0.06),(1.62,0.07),(1.62,0.027),(1.625,0.08),(1.63,0.024),(1.63,0.055),
    (1.635,0.065),(1.64,0.075),(1.64,0.045),(1.645,0.06),(1.65,0.1),(1.65,0.052),(1.655,0.07),(1.66,0.064),(1.66,0.03),(1.665,0.019),
    (1.67,0.075),(1.67,0.05),(1.675,0.058),(1.68,0.03),(1.68,0.068),(1.685,0.045),(1.69,0.083),(1.69,0.055),(1.695,0.06),(1.7,0.05),
    (1.705,0.065),(1.71,0.042),(1.71,0.078),(1.715,0.055),(1.72,0.048),(1.72,0.07),(1.725,0.06),(1.73,0.05),(1.73,0.038),(1.735,0.063),
    (1.74,0.045),(1.74,0.055),(1.745,0.068),(1.75,0.032),(1.75,0.05),(1.755,0.042),(1.76,0.0088),(1.76,0.058),(1.765,0.047),(1.77,0.037),
    (1.77,0.052),(1.775,0.062),(1.78,0.015),(1.78,0.018),(1.78,0.044),(1.785,0.055),(1.79,0.036),(1.79,0.048),(1.795,0.04),(1.8,0.052),
    (1.8,0.024),(1.805,0.04),(1.81,0.045),(1.81,0.06),(1.815,0.035),(1.82,0.042),(1.82,0.016),(1.825,0.055),(1.83,0.038),(1.83,0.047),
    (1.835,0.032),(1.84,0.06),(1.84,0.04),(1.845,0.025),(1.85,0.045),(1.85,0.03),(1.855,0.037),(1.86,0.028),(1.86,0.05),(1.865,0.03),
    (1.87,0.041),(1.875,0.027),(1.88,0.036),(1.88,0.02),(1.885,0.045),(1.89,0.015),(1.89,0.033),(1.895,0.028),(1.9,0.04),(1.9,0.023),
    (1.905,0.06),(1.91,0.035),(1.915,0.028),(1.92,0.042),(1.925,0.024),(1.93,0.038),(1.935,0.02),(1.94,0.03),(1.945,0.026),(1.95,0.011),
    (1.95,0.035),(1.955,0.019),(1.96,0.028),(1.965,0.022),(1.97,0.03),(1.975,0.017),(1.98,0.026),(1.985,0.032),(1.99,0.02),(2.0,0.047),
    (2.0,0.038),(2.0,0.023),(2.02,0.022),(2.03,0.028),(2.03,0.013),(2.04,0.027),(2.04,0.021),(2.05,0.03),(2.06,0.018),(2.06,0.022),
    (2.07,0.025),(2.09,0.02),(2.09,0.012),(2.1,0.03),(2.1,0.015),(2.12,0.016),(2.13,0.031),(2.14,0.017),(2.15,0.0088),(2.15,0.011),
    (2.15,0.031),(2.16,0.016),(2.18,0.013),(2.19,0.026),(2.2,0.015),(2.22,0.025),(2.24,0.018),(2.25,0.018),(2.26,0.011),(2.32,0.0059),
    (2.36,0.0033),(2.38,0.012),
    (1.6,0.06),(1.62,0.06),(1.64,0.065),(1.66,0.048),(1.68,0.052),(1.7,0.058),(1.72,0.042),(1.74,0.062),(1.76,0.04),(1.78,0.05),
    (1.8,0.044),(1.82,0.032),(1.84,0.036),(1.86,0.042),(1.88,0.031),(1.9,0.03),(1.92,0.025),(1.94,0.036),(1.96,0.032),(1.98,0.022),
    (2.01,0.026),(2.05,0.024),(2.08,0.02),(1.63,0.075),(1.67,0.065),(1.73,0.056),(1.77,0.043),(1.83,0.05),(1.87,0.035),(1.93,0.033),
    (1.97,0.038),
]

# ---------------- style / layout ----------------
plt.rcParams['font.family'] = ['Liberation Sans', 'DejaVu Sans']
plt.rcParams['mathtext.fontset'] = 'custom'
plt.rcParams['mathtext.rm'] = 'Liberation Sans'
plt.rcParams['mathtext.it'] = 'Liberation Sans:italic'
plt.rcParams['mathtext.bf'] = 'Liberation Sans:bold'

W, H = 631, 1288
fig = plt.figure(figsize=(W / 100, H / 100), dpi=100)


def rect(l, t, r, b):
    return [l / W, 1 - b / H, (r - l) / W, (b - t) / H]


def unzip(pairs):
    xs, ys = zip(*pairs)
    return np.array(xs, dtype=float), np.array(ys, dtype=float)


def pow10_label(v, pos):
    e = int(round(np.log10(v)))
    if e < 0:
        return r'$\mathdefault{10^{\,-\,%d}}$' % (-e)
    return r'$\mathdefault{10^{%d}}$' % e


ax_a = fig.add_axes(rect(104, 22.7, 628.3, 362.3))
ax_b = fig.add_axes(rect(106, 445, 633.2, 795))
ax_c = fig.add_axes(rect(102.7, 875.7, 634.4, 1226.7))

BLUE = '#0000FF'
TICK_FS = 17
LABEL_FS = 18

# ---- panel (a)
xa, ya = [], []
for grp in (a_band, a_band_lower, a_right, a_right_more, a_under, a_sparse):
    gx, gy = unzip(grp)
    xa.append(gx); ya.append(gy)
xa = np.concatenate(xa); ya = np.concatenate(ya)
xcl = np.concatenate([np.full(len(col), cx) for cx, col in zip(a_cloud_dist, a_cloud_logw)])
ycl = np.concatenate([np.array(col) for col in a_cloud_logw])
ax_a.scatter(xcl, 10 ** ycl, s=20, c=BLUE, linewidths=0)
ax_a.scatter(xa, 10 ** ya, s=15, c=BLUE, linewidths=0)
ax_a.set_yscale('log')
ax_a.set_xlim(0.419, 3.943)
ax_a.set_ylim(10 ** -7.975, 10 ** -0.095)
ax_a.xaxis.set_major_locator(MultipleLocator(0.5))
ax_a.xaxis.set_minor_locator(AutoMinorLocator(4))
ax_a.xaxis.set_major_formatter(FormatStrFormatter('%.1f'))
ax_a.yaxis.set_major_locator(LogLocator(base=10, numticks=20))
ax_a.yaxis.set_major_formatter(FuncFormatter(pow10_label))
ax_a.yaxis.set_minor_locator(LogLocator(base=10, subs=np.arange(2, 10), numticks=100))
ax_a.yaxis.set_minor_formatter(NullFormatter())
ax_a.tick_params(which='major', direction='out', length=7, width=2, labelsize=TICK_FS)
ax_a.tick_params(which='minor', direction='out', length=3.2, width=0.8)
ax_a.tick_params(axis='x', labelsize=16)
ax_a.set_xlabel('FN dist. (bohr)', fontsize=LABEL_FS)
ax_a.set_ylabel('Weight (Ry/bohr)', fontsize=LABEL_FS)
ax_a.xaxis.set_label_coords(0.49, -0.1375)
ax_a.yaxis.set_label_coords(-0.141, 0.455)
ax_a.spines['top'].set_color('#555555')
ax_a.spines['top'].set_linewidth(1.6)
for s in ('left', 'bottom', 'right'):
    ax_a.spines[s].set_linewidth(1.2)

# ---- panel (b)
b_groups = [b_black, b_darkred, b_red, b_orange, b_yellow_band + b_yellow_low,
            b_green_cloud + b_green_low, b_blue, b_purple]
for grp, col in zip(b_groups, b_colors):
    gx, gy = unzip(grp)
    ax_b.scatter(10 ** gx, 10 ** gy, s=17, c=col, linewidths=0, zorder=2)
ax_b.set_xscale('log'); ax_b.set_yscale('log')
ax_b.set_xlim(*b_lim); ax_b.set_ylim(*b_lim)
lo, hi = ax_b.get_xlim()
ax_b.plot([lo, hi], [lo, hi], color='black', lw=2.0, dashes=(3.5, 2.2), zorder=3)
for axis in (ax_b.xaxis, ax_b.yaxis):
    axis.set_major_locator(LogLocator(base=10, numticks=20))
    axis.set_major_formatter(FuncFormatter(pow10_label))
    axis.set_minor_locator(LogLocator(base=10, subs=np.arange(2, 10), numticks=100))
    axis.set_minor_formatter(NullFormatter())
ax_b.tick_params(which='major', direction='in', length=7, width=2, labelsize=TICK_FS)
ax_b.tick_params(axis='y', which='major', pad=6)
ax_b.tick_params(axis='x', which='major', pad=6)
ax_b.tick_params(which='minor', direction='in', length=3, width=0.8)
ax_b.set_xlabel('FN weight before (Ry/bohr)', fontsize=LABEL_FS)
ax_b.set_ylabel('FN weight after (Ry/bohr)', fontsize=LABEL_FS)
ax_b.xaxis.set_label_coords(0.5, -0.1)
ax_b.yaxis.set_label_coords(-0.127, 0.5)
for s in ax_b.spines.values():
    s.set_linewidth(1.2)
handles = [Line2D([], [], ls='none', marker='o', ms=4.8, mfc=c, mec=c) for c in b_colors]
ax_b.legend(handles, b_labels, loc='upper left', bbox_to_anchor=(0.659, 0.557), frameon=False,
            fontsize=13, handlelength=1.0, handletextpad=1.05, labelspacing=0.35,
            borderpad=0, borderaxespad=0)

# ---- panel (c)
xc, yc = [], []
for grp in (c_left, c_mid, c_right):
    gx, gy = unzip(grp)
    xc.append(gx); yc.append(gy)
xc = np.concatenate(xc); yc = np.concatenate(yc)
ax_c.scatter(xc, yc, s=19, c=BLUE, linewidths=0)
ax_c.set_yscale('log')
ax_c.set_xlim(0.491, 2.485)
ax_c.set_ylim(10 ** -2.579, 10 ** -0.339)
ax_c.xaxis.set_major_locator(MultipleLocator(0.25))
ax_c.xaxis.set_minor_locator(AutoMinorLocator(2))
ax_c.xaxis.set_major_formatter(FormatStrFormatter('%.2f'))
ax_c.yaxis.set_major_locator(LogLocator(base=10, numticks=20))
ax_c.yaxis.set_major_formatter(FuncFormatter(pow10_label))
ax_c.yaxis.set_minor_locator(LogLocator(base=10, subs=np.arange(2, 10), numticks=100))
ax_c.yaxis.set_minor_formatter(NullFormatter())
ax_c.tick_params(which='major', direction='in', length=7.5, width=2, labelsize=TICK_FS, pad=4)
ax_c.tick_params(which='minor', direction='in', length=5, width=0.8)
ax_c.set_xlabel('nearest FN dist. (bohr)', fontsize=LABEL_FS)
ax_c.set_ylabel('Ref. force diff. (Ry/bohr)', fontsize=LABEL_FS)
ax_c.xaxis.set_label_coords(0.485, -0.092)
ax_c.yaxis.set_label_coords(-0.118, 0.5)
ax_c.spines['top'].set_color('#555555')
ax_c.spines['top'].set_linewidth(1.6)
for s in ('left', 'bottom', 'right'):
    ax_c.spines[s].set_linewidth(1.2)

# ---- panel letters
for txt, xp, yp in (('(a)', 51, 18), ('(b)', 51, 418), ('(c)', 50, 868)):
    fig.text(xp / W, 1 - yp / H, txt, ha='center', va='center', fontsize=20)

# the first x tick label of (b) sits slightly right of its tick, as in the original
fig.canvas.draw()
shift = mtransforms.ScaledTranslation(13 / 100, 0, fig.dpi_scale_trans)
for loc, tick in zip(ax_b.xaxis.get_majorticklocs(), ax_b.xaxis.get_major_ticks()):
    if np.isclose(loc, b_lim[0]):
        tick.label1.set_transform(tick.label1.get_transform() + shift)

fig.savefig('out.png', dpi=100)
